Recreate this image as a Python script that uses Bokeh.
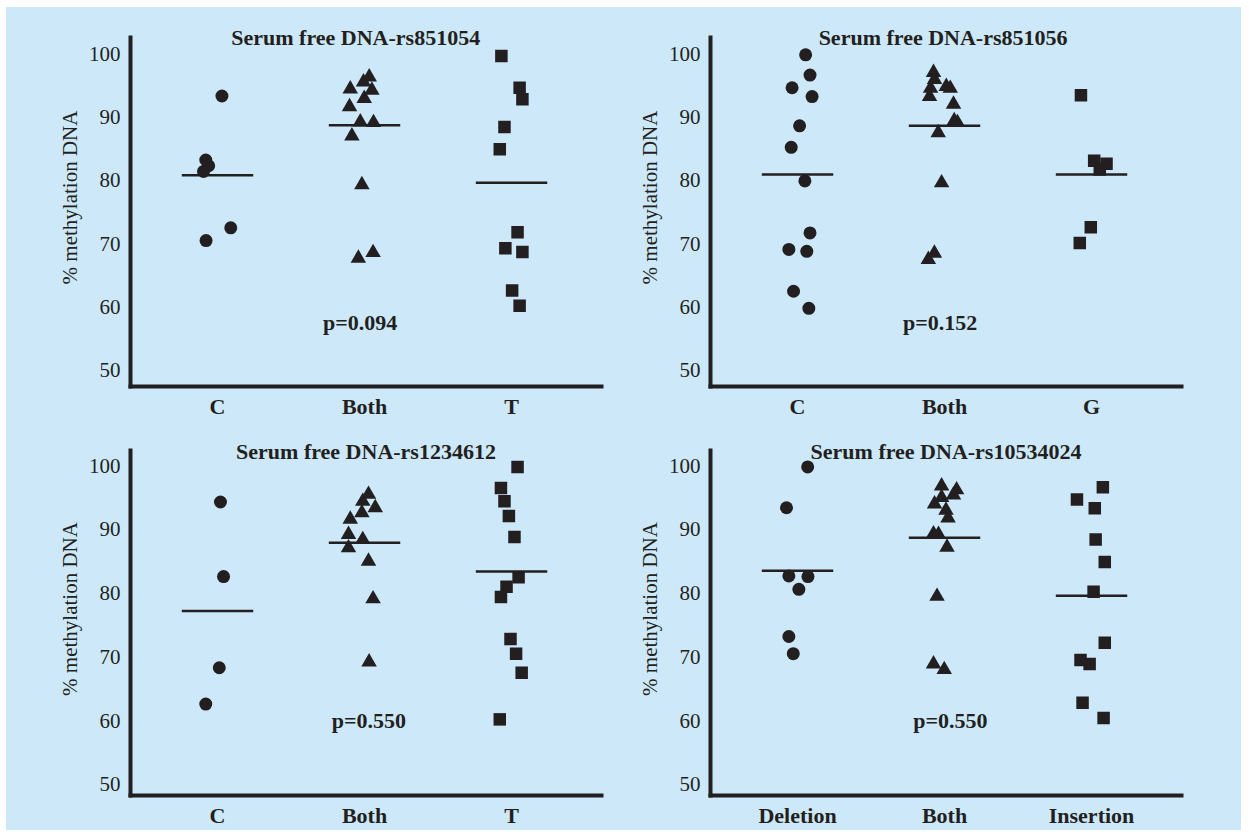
from bokeh.plotting import figure
from bokeh.models import FixedTicker, Label, Spacer
from bokeh.layouts import column, row
from bokeh.embed import file_html
from bokeh.resources import INLINE

# ---------------- data ----------------
p1_title = "Serum free DNA-rs851054"
p1_cats = ["C", "Both", "T"]
p1_c = [93.3, 83.2, 82.3, 81.4, 72.5, 70.5]
p1_c_jit = [0.03, -0.08, -0.06, -0.095, 0.09, -0.078]
p1_both = [96.3, 95.5, 94.4, 94.2, 92.9, 91.6, 89.2, 89.1, 87.0, 79.3, 67.7, 68.6]
p1_both_jit = [0.032, -0.007, -0.097, 0.05, -0.002, -0.102, -0.029, 0.061, -0.086, -0.018, -0.042, 0.058]
p1_t = [99.6, 94.6, 92.8, 88.4, 84.9, 71.8, 69.3, 68.7, 62.6, 60.2]
p1_t_jit = [-0.069, 0.055, 0.074, -0.048, -0.08, 0.041, -0.042, 0.074, 0.004, 0.055]
p1_means = [80.8, 88.7, 79.6]
p1_pval = "p=0.094"

p2_title = "Serum free DNA-rs851056"
p2_cats = ["C", "Both", "G"]
p2_c = [99.8, 96.6, 94.6, 93.2, 88.6, 85.2, 79.9, 71.7, 69.1, 68.8, 62.5, 59.8]
p2_c_jit = [0.055, 0.085, -0.037, 0.099, 0.014, -0.043, 0.05, 0.085, -0.059, 0.063, -0.027, 0.077]
p2_both = [97.0, 95.9, 94.5, 93.2, 94.8, 94.5, 92.0, 89.4, 89.1, 87.5, 79.6, 68.5, 67.5]
p2_both_jit = [-0.075, -0.068, -0.095, -0.102, 0.012, 0.039, 0.061, 0.066, 0.088, -0.043, -0.02, -0.069, -0.11]
p2_g = [93.4, 83.1, 82.6, 81.7, 72.6, 70.1]
p2_g_jit = [-0.072, 0.018, 0.102, 0.056, -0.005, -0.08]
p2_means = [80.9, 88.6, 80.9]
p2_pval = "p=0.152"

p3_title = "Serum free DNA-rs1234612"
p3_cats = ["C", "Both", "T"]
p3_c = [94.3, 82.6, 68.3, 62.6]
p3_c_jit = [0.02, 0.041, 0.012, -0.08]
p3_both = [95.5, 94.4, 93.4, 92.6, 91.6, 89.2, 88.4, 87.1, 85.0, 79.1, 69.2]
p3_both_jit = [0.027, -0.012, 0.073, -0.018, -0.097, -0.109, -0.012, -0.109, 0.027, 0.058, 0.031]
p3_t = [99.8, 96.5, 94.4, 92.1, 88.8, 82.5, 81.0, 79.4, 72.8, 70.5, 67.5, 60.2]
p3_t_jit = [0.041, -0.072, -0.048, -0.018, 0.02, 0.048, -0.034, -0.072, -0.007, 0.031, 0.069, -0.08]
p3_means = [77.2, 87.9, 83.4]
p3_pval = "p=0.550"

p4_title = "Serum free DNA-rs10534024"
p4_cats = ["Deletion", "Both", "Insertion"]
p4_del = [99.8, 93.4, 82.7, 82.6, 80.6, 73.2, 70.5]
p4_del_jit = [0.069, -0.075, -0.059, 0.071, 0.009, -0.059, -0.029]
p4_both = [96.8, 96.2, 95.4, 95.0, 94.0, 93.0, 91.8, 89.3, 89.2, 87.2, 79.5, 68.9, 68.0]
p4_both_jit = [-0.02, 0.082, 0.061, -0.02, -0.068, 0.01, 0.024, -0.075, -0.041, 0.017, -0.051, -0.075, -0.002]
p4_ins = [96.6, 94.7, 93.3, 88.4, 84.9, 80.2, 72.2, 69.5, 68.9, 62.8, 60.4]
p4_ins_jit = [0.077, -0.099, 0.022, 0.028, 0.09, 0.014, 0.09, -0.075, -0.013, -0.061, 0.082]
p4_means = [83.5, 88.7, 79.6]
p4_pval = "p=0.550"

y_ticks = [50, 60, 70, 80, 90, 100]
y_label = "% methylation DNA"

# ---------------- style ----------------
BG = "#CDE9F9"
INK = "#231F20"
FONT = "Liberation Serif"
MARKERS = [("circle", 13), ("triangle", 15.5), ("square", 12.5)]

X0, X1 = 0.408, 3.612


def make_panel(title, cats, groups, means, pval, pval_xy, title_xy,
               width, height, bl, br, bt, bb, y0, y1, ytop):
    p = figure(width=width, height=height, x_range=(X0, X1), y_range=(y0, y1),
               output_backend="svg", toolbar_location=None,
               min_border_left=bl, min_border_right=br,
               min_border_top=bt, min_border_bottom=bb)
    p.background_fill_color = BG
    p.border_fill_color = BG
    p.outline_line_color = None
    p.grid.visible = False

    p.axis.axis_line_width = 4
    p.axis.axis_line_color = INK
    p.axis.axis_line_cap = "square"
    p.axis.major_tick_out = 0
    p.axis.major_tick_in = 0
    p.axis.minor_tick_out = 0
    p.axis.minor_tick_in = 0

    p.xaxis.ticker = FixedTicker(ticks=[1, 2, 3])
    p.xaxis.major_label_overrides = {1: cats[0], 2: cats[1], 3: cats[2]}
    p.xaxis.major_label_text_font = FONT
    p.xaxis.major_label_text_font_style = "bold"
    p.xaxis.major_label_text_font_size = "22px"
    p.xaxis.major_label_text_color = INK
    p.xaxis.major_label_standoff = 7

    p.yaxis.bounds = (y0, ytop)
    p.yaxis.ticker = FixedTicker(ticks=y_ticks)
    p.yaxis.major_label_text_font = FONT
    p.yaxis.major_label_text_font_size = "21px"
    p.yaxis.major_label_text_color = INK
    p.yaxis.major_label_standoff = 10
    p.yaxis.axis_label = y_label
    p.yaxis.axis_label_text_font = FONT
    p.yaxis.axis_label_text_font_style = "normal"
    p.yaxis.axis_label_text_font_size = "21px"
    p.yaxis.axis_label_text_color = INK
    p.yaxis.axis_label_standoff = 4

    for i, (vals, jit) in enumerate(groups):
        marker, size = MARKERS[i]
        xs = [i + 1 + j for j in jit]
        p.scatter(xs, vals, marker=marker, size=size,
                  fill_color=INK, line_color=None)

    half = 0.243
    p.segment(x0=[k + 1 - half for k in range(3)], y0=means,
              x1=[k + 1 + half for k in range(3)], y1=means,
              line_width=2.5, line_color=INK)

    p.add_layout(Label(x=pval_xy[0], y=pval_xy[1], text=pval,
                       text_font=FONT, text_font_style="bold",
                       text_font_size="22px", text_color=INK,
                       text_align="center", text_baseline="middle"))
    p.add_layout(Label(x=title_xy[0], y=title_xy[1], text=title,
                       text_font=FONT, text_font_style="bold",
                       text_font_size="22px", text_color=INK,
                       text_align="center", text_baseline="alphabetic"))
    return p


TOP = dict(height=414, bt=1, bb=35, y0=47.476, y1=107.1, ytop=102.52)
BOT = dict(height=409, bt=1, bb=32, y0=48.257, y1=106.77, ytop=102.41)
LEFT = dict(width=610, bl=124, br=15)
RIGHT = dict(width=625, bl=94, br=60)

p1 = make_panel(p1_title, p1_cats,
                [(p1_c, p1_c_jit), (p1_both, p1_both_jit), (p1_t, p1_t_jit)],
                p1_means, p1_pval, (1.97, 57.6), (1.94, 102.52), **LEFT, **TOP)
p2 = make_panel(p2_title, p2_cats,
                [(p2_c, p2_c_jit), (p2_both, p2_both_jit), (p2_g, p2_g_jit)],
                p2_means, p2_pval, (1.97, 57.5), (1.99, 102.52), **RIGHT, **TOP)
p3 = make_panel(p3_title, p3_cats,
                [(p3_c, p3_c_jit), (p3_both, p3_both_jit), (p3_t, p3_t_jit)],
                p3_means, p3_pval, (2.03, 60.0), (2.01, 102.26), **LEFT, **BOT)
p4 = make_panel(p4_title, p4_cats,
                [(p4_del, p4_del_jit), (p4_both, p4_both_jit), (p4_ins, p4_ins_jit)],
                p4_means, p4_pval, (2.04, 60.0), (2.01, 102.26), **RIGHT, **BOT)

grid = column(row(p1, p2, spacing=0), row(p3, p4, spacing=0), spacing=0,
              background=BG)
layout = column(Spacer(width=1241, height=7),
                row(Spacer(width=6, height=823), grid, spacing=0),
                spacing=0)

open("out.html", "w").write(file_html(layout, INLINE))
